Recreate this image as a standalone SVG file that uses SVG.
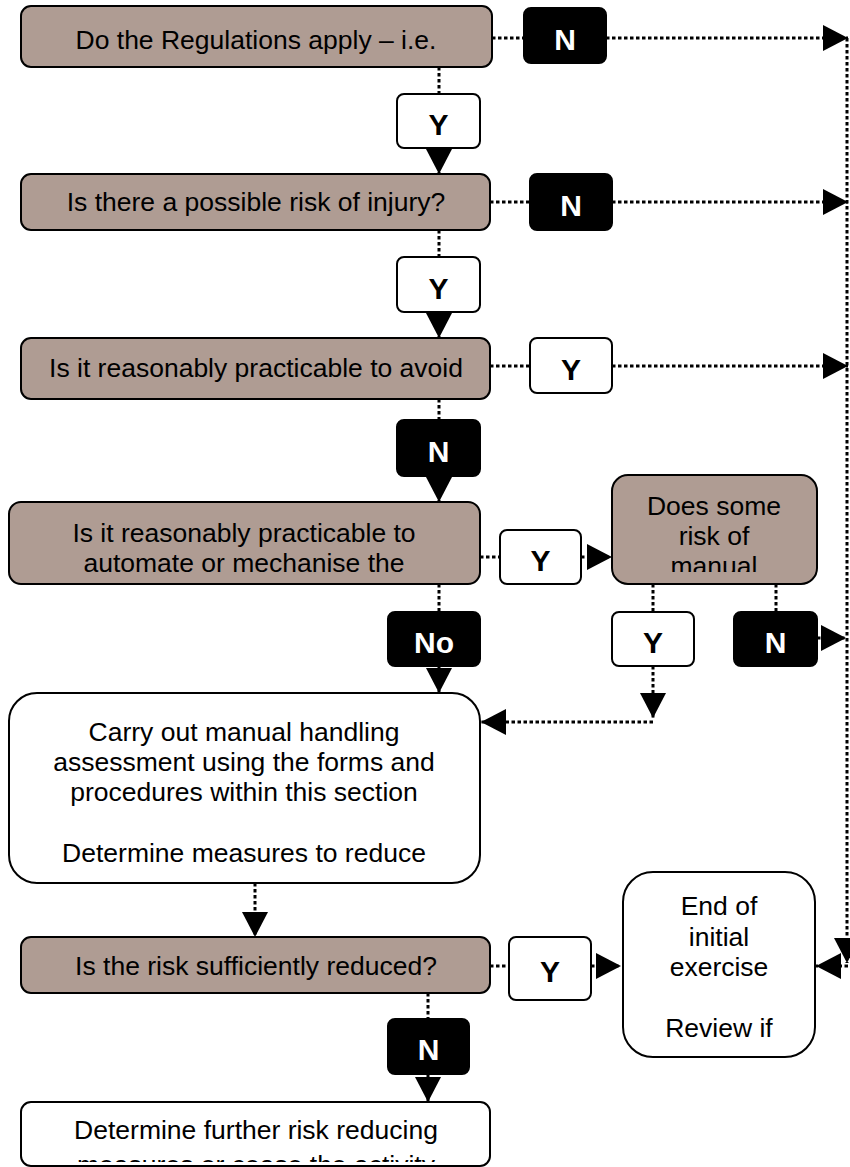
<svg xmlns="http://www.w3.org/2000/svg" width="850" height="1167" viewBox="0 0 850 1167">
<style>
.dec{fill:#af9c93;stroke:#000;stroke-width:2}
.proc{fill:#fff;stroke:#000;stroke-width:2}
.lN{fill:#000;stroke:#000;stroke-width:2}
.lY{fill:#fff;stroke:#000;stroke-width:2}
.t{font-family:"Liberation Sans",Arial,sans-serif;font-size:26.5px;text-anchor:middle;fill:#000}
.lt{font-family:"Liberation Sans",Arial,sans-serif;font-size:30px;font-weight:bold;text-anchor:middle}
.w{fill:#fff}
.k{fill:#000}
.c{stroke:#000;stroke-width:3;stroke-dasharray:3.5 2.5;fill:none}
.a{marker-end:url(#ah)}
</style>
<defs>
<marker id="ah" viewBox="0 0 25 26" refX="25" refY="13" markerWidth="25" markerHeight="26" markerUnits="userSpaceOnUse" orient="auto">
<path d="M0,0 L25,13 L0,26 z" fill="#000"/>
</marker>
<clipPath id="cp4"><rect x="10" y="503" width="469" height="71"/></clipPath>
<clipPath id="cp5"><rect x="613" y="476" width="203" height="96"/></clipPath>
<clipPath id="cp8"><rect x="22" y="1103" width="467" height="59"/></clipPath>
</defs>

<g id="connectors">
<line class="c" x1="492" y1="38" x2="524" y2="38"/>
<line class="c a" x1="606" y1="38" x2="848" y2="38"/>
<line class="c" x1="439" y1="67" x2="439" y2="94"/>
<line class="c a" x1="439" y1="148" x2="439" y2="174"/>
<line class="c" x1="490" y1="202" x2="530" y2="202"/>
<line class="c a" x1="612" y1="202" x2="848" y2="202"/>
<line class="c" x1="439" y1="230" x2="439" y2="257"/>
<line class="c a" x1="439" y1="312" x2="439" y2="338"/>
<line class="c" x1="490" y1="366" x2="530" y2="366"/>
<line class="c a" x1="612" y1="366" x2="848" y2="366"/>
<line class="c" x1="439" y1="399" x2="439" y2="420"/>
<line class="c a" x1="439" y1="476" x2="439" y2="502"/>
<line class="c" x1="480" y1="557" x2="500" y2="557"/>
<line class="c a" x1="581" y1="557" x2="612" y2="557"/>
<line class="c" x1="439" y1="584" x2="439" y2="612"/>
<line class="c a" x1="439" y1="666" x2="439" y2="693"/>
<line class="c" x1="653" y1="584" x2="653" y2="612"/>
<line class="c a" x1="653" y1="666" x2="653" y2="718"/>
<line class="c a" x1="653" y1="722" x2="481" y2="722"/>
<line class="c" x1="776" y1="584" x2="776" y2="612"/>
<line class="c a" x1="817" y1="638" x2="846" y2="638"/>
<line class="c a" x1="847" y1="38" x2="847" y2="963"/>
<line class="c a" x1="848" y1="966" x2="816" y2="966"/>
<line class="c a" x1="255" y1="883" x2="255" y2="937"/>
<line class="c" x1="490" y1="966" x2="509" y2="966"/>
<line class="c a" x1="591" y1="966" x2="621" y2="966"/>
<line class="c" x1="428" y1="993" x2="428" y2="1019"/>
<line class="c a" x1="428" y1="1074" x2="428" y2="1102"/>
</g>

<g id="q1"><rect class="dec" x="21" y="6" width="471" height="61" rx="10"/>
<text class="t" x="256" y="49">Do the Regulations apply – i.e.</text></g>
<g id="q2"><rect class="dec" x="21" y="174" width="469" height="56" rx="10"/>
<text class="t" x="256" y="211">Is there a possible risk of injury?</text></g>
<g id="q3"><rect class="dec" x="21" y="338" width="469" height="61" rx="10"/>
<text class="t" x="256" y="377">Is it reasonably practicable to avoid</text></g>
<g id="q4"><rect class="dec" x="9" y="502" width="471" height="82" rx="12"/>
<text class="t" clip-path="url(#cp4)"><tspan x="244" y="542">Is it reasonably practicable to</tspan><tspan x="244" y="572">automate or mechanise the</tspan></text></g>
<g id="q5"><rect class="dec" x="612" y="475" width="205" height="109" rx="16"/>
<text class="t" clip-path="url(#cp5)"><tspan x="714" y="515">Does some</tspan><tspan x="714" y="545">risk of</tspan><tspan x="714" y="575">manual</tspan></text></g>
<g id="p6"><rect class="proc" x="9" y="693" width="471" height="190" rx="28"/>
<text class="t"><tspan x="244" y="741">Carry out manual handling</tspan><tspan x="244" y="771">assessment using the forms and</tspan><tspan x="244" y="801">procedures within this section</tspan><tspan x="244" y="862">Determine measures to reduce</tspan></text></g>
<g id="q7"><rect class="dec" x="21" y="937" width="469" height="56" rx="10"/>
<text class="t" x="256" y="975">Is the risk sufficiently reduced?</text></g>
<g id="end"><rect class="proc" x="623" y="872" width="192" height="185" rx="30"/>
<text class="t"><tspan x="719" y="915">End of</tspan><tspan x="719" y="945.5">initial</tspan><tspan x="719" y="976">exercise</tspan><tspan x="719" y="1037">Review if</tspan></text></g>
<g id="p8"><rect class="proc" x="21" y="1102" width="469" height="64" rx="10"/>
<text class="t" clip-path="url(#cp8)"><tspan x="256" y="1139">Determine further risk reducing</tspan><tspan x="256" y="1173.5">measures or cease the activity</tspan></text></g>

<g id="lbl-n1"><rect class="lN" x="524" y="8" width="82" height="55" rx="7"/><text class="lt w" x="565" y="49.5">N</text></g>
<g id="lbl-y1"><rect class="lY" x="397" y="94" width="83" height="54" rx="7"/><text class="lt k" x="438.5" y="135">Y</text></g>
<g id="lbl-n2"><rect class="lN" x="530" y="174" width="82" height="56" rx="7"/><text class="lt w" x="571" y="216">N</text></g>
<g id="lbl-y2"><rect class="lY" x="397" y="257" width="83" height="55" rx="7"/><text class="lt k" x="438.5" y="298.5">Y</text></g>
<g id="lbl-y3"><rect class="lY" x="530" y="338" width="82" height="55" rx="7"/><text class="lt k" x="571" y="379.5">Y</text></g>
<g id="lbl-n3"><rect class="lN" x="397" y="420" width="83" height="56" rx="7"/><text class="lt w" x="438.5" y="462">N</text></g>
<g id="lbl-y4"><rect class="lY" x="500" y="530" width="81" height="54" rx="7"/><text class="lt k" x="540.5" y="571">Y</text></g>
<g id="lbl-no"><rect class="lN" x="388" y="612" width="92" height="54" rx="7"/><text class="lt w" x="434" y="653">No</text></g>
<g id="lbl-y5"><rect class="lY" x="612" y="612" width="82" height="54" rx="7"/><text class="lt k" x="653" y="653">Y</text></g>
<g id="lbl-n5"><rect class="lN" x="734" y="612" width="83" height="54" rx="7"/><text class="lt w" x="775.5" y="653">N</text></g>
<g id="lbl-y7"><rect class="lY" x="509" y="937" width="82" height="63" rx="7"/><text class="lt k" x="550" y="982">Y</text></g>
<g id="lbl-n7"><rect class="lN" x="388" y="1019" width="81" height="55" rx="7"/><text class="lt w" x="428.5" y="1060">N</text></g>
</svg>
